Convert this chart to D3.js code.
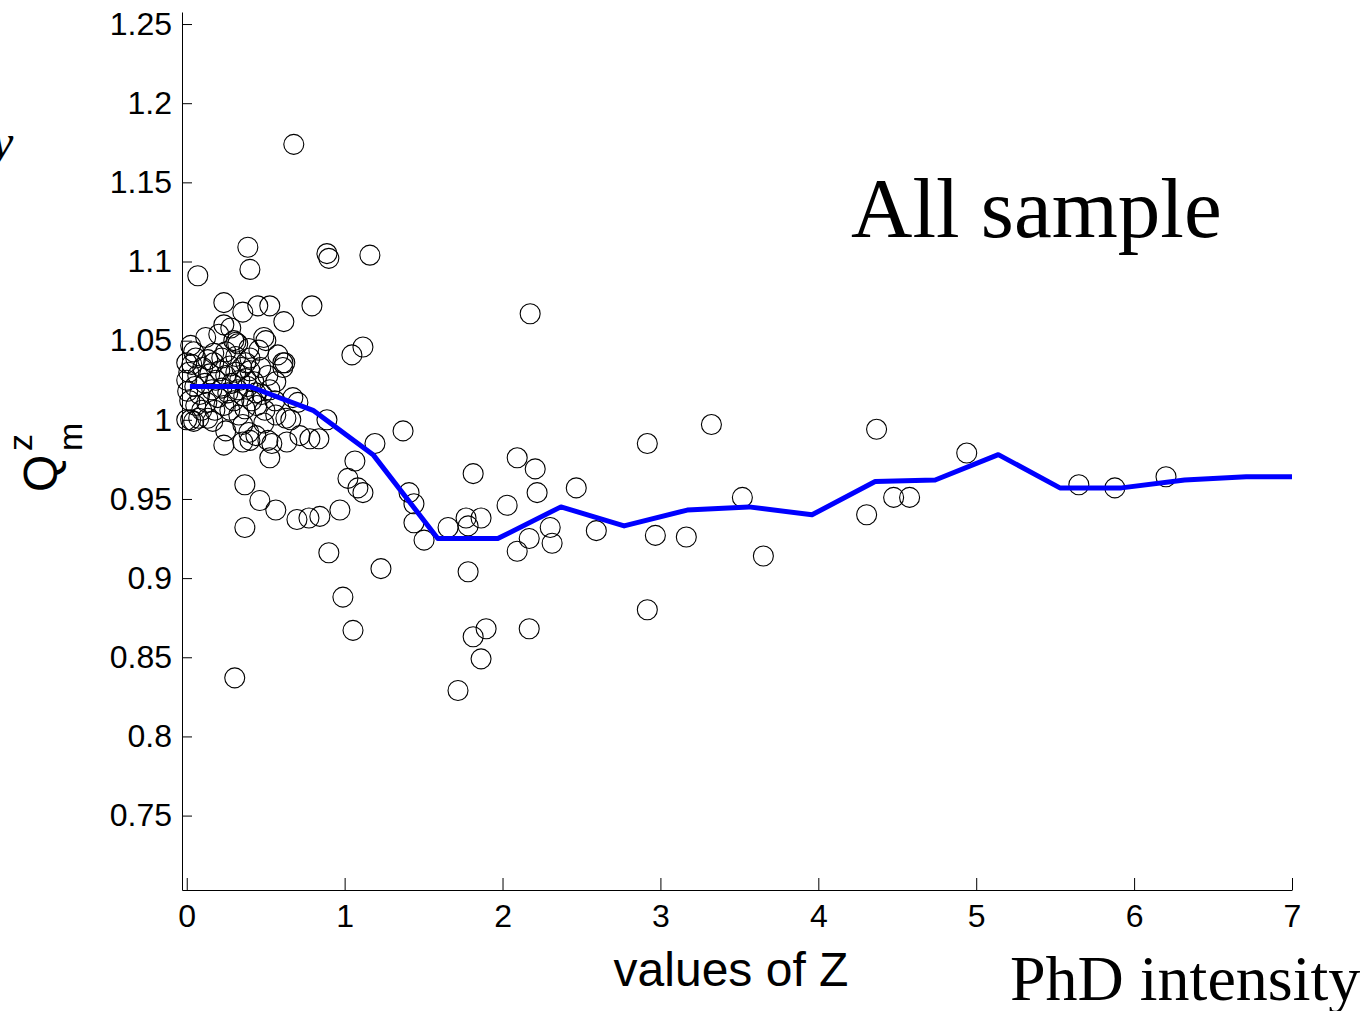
<!DOCTYPE html>
<html>
<head>
<meta charset="utf-8">
<script src="https://cdn.jsdelivr.net/npm/d3@7"></script>
<style>
  html, body { margin: 0; padding: 0; background: #fff; }
  svg { display: block; }
</style>
</head>
<body>
<svg id="chart"></svg>
<script>
// scatter: values of Z (x) and Q_m^z (y)
const pointZ = [
  0.678, 0.387, 0.400, 0.070, 0.888, 0.900, 1.160, 2.175, 0.793, 0.235,
  0.450, 0.526, 0.355, 0.615, 1.046, 1.116, 2.917, 3.323, 4.369, 4.940,
  6.202, 5.650, 5.878, 4.477, 4.578, 4.306, 3.519, 3.652, 3.164, 2.968,
  2.594, 2.467, 2.219, 2.207, 2.093, 2.029, 1.814, 1.864, 1.769, 1.782,
  1.655, 1.503, 1.408, 1.439, 1.439, 1.370, 1.192, 1.230, 1.065, 1.021,
  1.084, 1.116, 0.970, 0.900, 0.989, 1.053, 1.782, 1.814, 1.896, 1.864,
  1.718, 2.093, 2.169, 2.314, 2.302, 2.169, 2.917, 0.304, 0.368, 0.368,
  0.463, 0.564, 0.698, 0.774, 0.843, 0.526, 0.235, 0.355, 0.400, 0.539,
  0.634, 0.717, 0.780, 0.837, 0.888, 0.704, 0.564, 0.469, 0.609, 0.672,
  0.621, 0.564, 0.628, 0.659, 0.488, 0.330, 0.355, 0.393, 0.247, 0.025,
  0.076, 0.133, 0.165, 0.438, 0.514,
  0.235, 0.120, 0.203, 0.279, 0.298, 0.311, 0.323, 0.488, 0.501, 0.393,
  0.025, 0.057, 0.171, 0.247, 0.457, 0.577, 0.609, 0.374,
  0.000, 0.013, 0.032, 0.051, 0.070, 0.082, 0.101, 0.114, 0.127, 0.146,
  0.159, 0.171, 0.184, 0.197, 0.209, 0.222, 0.235, 0.247, 0.260, 0.273,
  0.285, 0.298, 0.311, 0.323, 0.336, 0.349, 0.361, 0.374, 0.387, 0.400,
  0.412, 0.425, 0.438, 0.057, 0.019, 0.095, 0.178, 0.273, 0.368, 0.444,
  0.476, 0.514, 0.526, 0.006, 0.133, 0.222, 0.311, 0.400, 0.044, 0.000,
  0.495, 0.558, 0.000, 0.044
];
const pointQ = [
  1.174, 1.109, 1.095, 1.091, 1.105, 1.102, 1.104, 1.067, 1.072, 1.074,
  1.072, 1.072, 1.068, 1.062, 1.041, 1.046, 0.985, 0.997, 0.994, 0.979,
  0.964, 0.959, 0.957, 0.951, 0.951, 0.940, 0.951, 0.914, 0.926, 0.927,
  0.930, 0.957, 0.954, 0.969, 0.976, 0.946, 0.966, 0.938, 0.938, 0.933,
  0.932, 0.924, 0.954, 0.947, 0.935, 0.993, 0.985, 0.906, 0.974, 0.963,
  0.957, 0.954, 0.943, 0.916, 0.888, 0.867, 0.904, 0.863, 0.868, 0.849,
  0.829, 0.917, 0.925, 0.922, 0.932, 0.868, 0.880, 0.837, 0.932, 0.959,
  0.949, 0.943, 0.937, 0.938, 0.939, 0.976, 0.984, 0.986, 0.987, 0.985,
  0.986, 0.990, 0.988, 0.988, 1.000, 1.011, 1.024, 1.033, 1.033, 1.014,
  1.036, 1.003, 1.001, 1.000, 0.998, 1.003, 0.997, 0.992, 0.993, 1.000,
  1.001, 1.001, 0.999, 0.990, 0.987,
  1.060, 1.052, 1.054, 1.058, 1.050, 1.049, 1.048, 1.052, 1.050, 1.045,
  1.047, 1.039, 1.042, 1.043, 1.044, 1.041, 1.036, 1.036,
  1.025, 1.030, 1.035, 1.021, 1.028, 1.016, 1.033, 1.023, 1.011, 1.029,
  1.019, 1.036, 1.025, 1.014, 1.031, 1.020, 1.009, 1.028, 1.017, 1.034,
  1.023, 1.012, 1.030, 1.019, 1.025, 1.033, 1.015, 1.026, 1.021, 1.031,
  1.012, 1.024, 1.017, 1.009, 1.012, 1.006, 1.006, 1.006, 1.007, 1.009,
  1.016, 1.028, 1.019, 1.018, 1.038, 1.039, 1.040, 1.039, 1.043, 1.036,
  1.006, 1.012, 1.000, 0.999
];

// binned mean curve
const binZ = [0.02, 0.40, 0.80, 1.18, 1.59, 1.97, 2.37, 2.77, 3.17, 3.56,
              3.96, 4.36, 4.74, 5.14, 5.53, 5.92, 6.32, 6.71, 7.00];
const binQ = [1.021, 1.021, 1.006, 0.978, 0.925, 0.925, 0.945, 0.933, 0.943, 0.945,
              0.940, 0.961, 0.962, 0.978, 0.957, 0.957, 0.962, 0.964, 0.964];

const xTicks = [0, 1, 2, 3, 4, 5, 6, 7];
const yTicks = [0.75, 0.8, 0.85, 0.9, 0.95, 1, 1.05, 1.1, 1.15, 1.2, 1.25];

const width = 1363;
const height = 1011;

const svg = d3.select("#chart")
  .attr("width", width)
  .attr("height", height)
  .attr("viewBox", [0, 0, width, height]);

const x = d3.scaleLinear().domain([-0.03, 7]).range([182, 1292]);
const y = d3.scaleLinear().domain([0.703, 1.2576]).range([890, 12]);

const sans = "'Liberation Sans', Arial, sans-serif";
const serif = "'Liberation Serif', 'Times New Roman', serif";

// axes (ticks point inward, no box)
const yAxis = svg.append("g")
  .attr("transform", `translate(${x.range()[0]},0)`)
  .call(d3.axisLeft(y).tickValues(yTicks).tickSize(-10).tickSizeOuter(0).tickPadding(10)
    .tickFormat(d => String(+d.toFixed(2))));

const xAxis = svg.append("g")
  .attr("transform", `translate(0,${y.range()[0]})`)
  .call(d3.axisBottom(x).tickValues(xTicks).tickSize(-12).tickSizeOuter(0).tickPadding(14)
    .tickFormat(d3.format("d")));

[yAxis, xAxis].forEach(g => {
  g.selectAll("path.domain").attr("stroke", "#000").attr("stroke-width", 1);
  g.selectAll(".tick line").attr("stroke", "#000").attr("stroke-width", 1);
  g.selectAll(".tick text")
    .attr("fill", "#000")
    .style("font-family", sans)
    .style("font-size", "32px");
});

// scatter circles
svg.append("g")
  .attr("fill", "none")
  .attr("stroke", "#000")
  .attr("stroke-width", 1.1)
  .selectAll("circle")
  .data(d3.range(pointZ.length))
  .join("circle")
  .attr("cx", i => x(pointZ[i]))
  .attr("cy", i => y(pointQ[i]))
  .attr("r", 10);

// blue curve
const line = d3.line()
  .x(i => x(binZ[i]))
  .y(i => y(binQ[i]));

svg.append("path")
  .datum(d3.range(binZ.length))
  .attr("fill", "none")
  .attr("stroke", "#0000ff")
  .attr("stroke-width", 5)
  .attr("stroke-linejoin", "round")
  .attr("d", line);

// texts
svg.append("text")
  .attr("x", 851).attr("y", 237)
  .style("font-family", serif).style("font-size", "85px")
  .text("All sample");

svg.append("text")
  .attr("x", 1010).attr("y", 1000)
  .style("font-family", serif).style("font-size", "64px")
  .text("PhD intensity");

svg.append("text")
  .attr("x", 731).attr("y", 986)
  .attr("text-anchor", "middle")
  .style("font-family", sans).style("font-size", "48px")
  .text("values of Z");

// clipped italic letter at the top-left edge
svg.append("text")
  .attr("x", -8).attr("y", 158)
  .style("font-family", serif).style("font-size", "48px").style("font-style", "italic")
  .text("y");

// y label: Q with superscript z and subscript m, rotated
const ylab = svg.append("g")
  .attr("transform", "translate(57,492) rotate(-90)")
  .style("font-family", sans);
ylab.append("text").attr("x", 0).attr("y", 0).style("font-size", "48px").text("Q");
ylab.append("text").attr("x", 41).attr("y", -25).style("font-size", "34px").text("z");
ylab.append("text").attr("x", 41).attr("y", 25).style("font-size", "34px").text("m");
</script>
</body>
</html>
